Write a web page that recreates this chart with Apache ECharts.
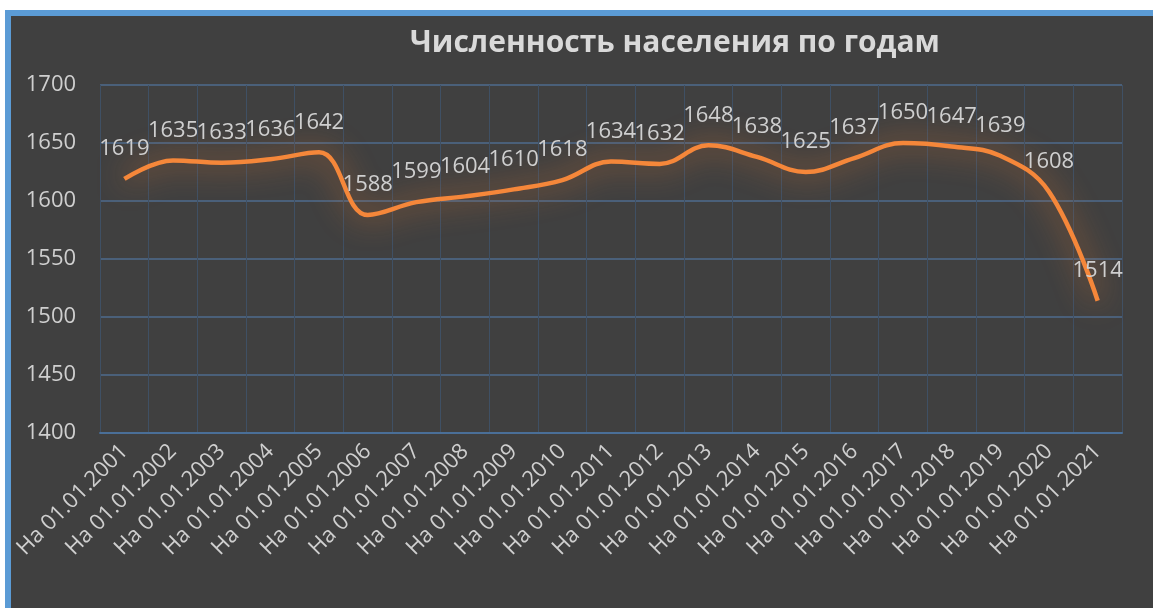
<!DOCTYPE html>
<html>
<head>
<meta charset="utf-8">
<script src="https://cdn.jsdelivr.net/npm/echarts@6/dist/echarts.min.js"></script>
<style>
  html, body { margin: 0; padding: 0; background: #ffffff; overflow: hidden; width: 1153px; height: 608px; }
  .frame {
    position: absolute; left: 5px; top: 10px; width: 1200px; height: 650px;
    border-left: 6px solid #5b9bd5; border-top: 6px solid #5b9bd5;
    background: #404040;
  }
  #chart { position: absolute; left: 0; top: 0; width: 1142px; height: 592px; }
</style>
</head>
<body>
<div class="frame"><div id="chart"></div></div>
<script>
  var title = 'Численность населения по годам';
  var years = ['2001', '2002', '2003', '2004', '2005', '2006', '2007', '2008', '2009', '2010',
    '2011', '2012', '2013', '2014', '2015', '2016', '2017', '2018', '2019', '2020', '2021'];
  var categories = years.map(function (y) { return 'На 01.01.' + y; });
  var population = [1619, 1635, 1633, 1636, 1642, 1588, 1599, 1604, 1610, 1618,
    1634, 1632, 1648, 1638, 1625, 1637, 1650, 1647, 1639, 1608, 1514];

  var textColor = '#cfcfcf';
  var font = '"Open Sans", "Noto Sans", sans-serif';

  var chart = echarts.init(document.getElementById('chart'));
  var option = {
    backgroundColor: 'transparent',
    animation: false,
    title: {
      text: title,
      left: 399,
      top: 12,
      padding: 0,
      textStyle: {
        color: '#d9d9d9',
        fontFamily: font,
        fontWeight: 'bold',
        fontSize: 30
      }
    },
    grid: {
      left: 89,
      top: 69,
      right: 31,
      bottom: 175,
      containLabel: false
    },
    xAxis: {
      type: 'category',
      data: categories,
      boundaryGap: true,
      axisLine: { show: true, lineStyle: { color: '#4a6f98', width: 2 } },
      axisTick: { show: false },
      splitLine: { show: true, lineStyle: { color: '#3f5064', width: 1 } },
      axisLabel: {
        rotate: 45,
        interval: 0,
        margin: 15,
        color: textColor,
        fontFamily: font,
        fontSize: 22
      }
    },
    yAxis: {
      type: 'value',
      min: 1400,
      max: 1700,
      interval: 50,
      axisLine: { show: false },
      axisTick: { show: false },
      splitLine: { show: true, lineStyle: { color: '#4e6b8e', width: 1.5 } },
      axisLabel: {
        margin: 24,
        color: textColor,
        fontFamily: font,
        fontSize: 22,
        formatter: function (v) { return String(v); }
      }
    },
    series: [
      {
        type: 'line',
        data: population,
        smooth: 0.4,
        symbol: 'circle',
        symbolSize: 0,
        showSymbol: true,
        lineStyle: {
          color: '#f5873a',
          width: 4.5,
          shadowColor: 'rgba(240, 125, 45, 0.95)',
          shadowBlur: 30
        },
        itemStyle: { color: '#f5873a' },
        label: {
          show: true,
          position: 'top',
          distance: 19,
          color: textColor,
          fontFamily: font,
          fontSize: 22
        },
        z: 3
      }
    ]
  };
  chart.setOption(option);
</script>
</body>
</html>
